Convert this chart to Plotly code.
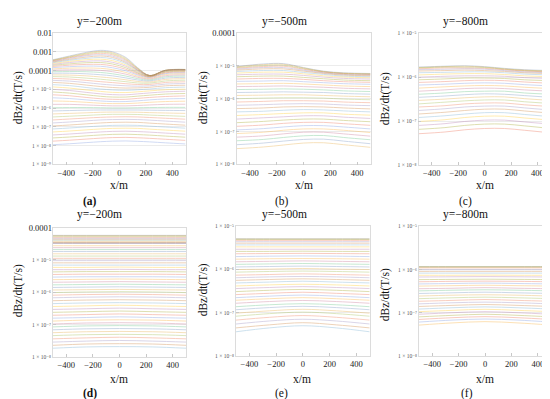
import plotly.graph_objects as go

W, H = 550, 399
palette = ["#5E81B5", "#E19C24", "#8FB032", "#EB6235", "#8778B3", "#C56E1A", "#5D9EC7",
           "#FFBF00", "#A5609D", "#929600", "#E95536", "#6685D9", "#F89F13", "#BC5B80", "#47B66D"]

# ---------------- data (log10 of dBz/dt) ----------------
x_a = [-500, -375, -250, -140, -50, 50, 140, 230, 350, 500]
log_a = [
    [-3.42, -3.22, -3.03, -2.92, -3.00, -3.30, -3.85, -4.26, -3.98, -3.94],
    [-3.44, -3.25, -3.07, -2.97, -3.05, -3.35, -3.88, -4.26, -3.98, -3.94],
    [-3.46, -3.28, -3.11, -3.02, -3.10, -3.40, -3.90, -4.26, -3.98, -3.94],
    [-3.48, -3.31, -3.16, -3.08, -3.16, -3.45, -3.93, -4.26, -3.99, -3.95],
    [-3.51, -3.35, -3.21, -3.15, -3.23, -3.51, -3.96, -4.27, -3.99, -3.95],
    [-3.54, -3.40, -3.28, -3.22, -3.30, -3.57, -3.99, -4.27, -4.00, -3.96],
    [-3.58, -3.45, -3.35, -3.30, -3.38, -3.63, -4.02, -4.28, -4.01, -3.97],
    [-3.62, -3.51, -3.42, -3.39, -3.47, -3.70, -4.06, -4.29, -4.03, -3.99],
    [-3.67, -3.57, -3.50, -3.48, -3.56, -3.77, -4.10, -4.30, -4.05, -4.01],
    [-3.72, -3.64, -3.58, -3.57, -3.65, -3.85, -4.14, -4.32, -4.08, -4.04],
    [-3.78, -3.71, -3.67, -3.67, -3.75, -3.93, -4.19, -4.34, -4.12, -4.08],
    [-3.84, -3.79, -3.76, -3.77, -3.85, -4.01, -4.24, -4.37, -4.16, -4.12],
    [-3.91, -3.87, -3.86, -3.88, -3.95, -4.10, -4.30, -4.41, -4.21, -4.17],
    [-3.98, -3.96, -3.96, -3.99, -4.06, -4.19, -4.36, -4.45, -4.27, -4.23],
    [-4.06, -4.05, -4.06, -4.10, -4.17, -4.29, -4.43, -4.50, -4.33, -4.29],
    [-4.14, -4.14, -4.17, -4.22, -4.28, -4.39, -4.50, -4.55, -4.40, -4.36],
    [-4.23, -4.24, -4.28, -4.34, -4.40, -4.49, -4.58, -4.61, -4.47, -4.43],
    [-4.32, -4.34, -4.40, -4.46, -4.52, -4.59, -4.66, -4.67, -4.55, -4.51],
    [-4.42, -4.45, -4.52, -4.59, -4.64, -4.70, -4.74, -4.74, -4.63, -4.60],
    [-4.52, -4.56, -4.64, -4.72, -4.77, -4.81, -4.83, -4.81, -4.72, -4.69],
    [-4.63, -4.68, -4.77, -4.85, -4.90, -4.93, -4.92, -4.89, -4.81, -4.78],
    [-4.75, -4.80, -4.90, -4.98, -5.03, -5.05, -5.02, -4.98, -4.91, -4.88],
    [-4.87, -4.93, -5.03, -5.11, -5.16, -5.17, -5.13, -5.08, -5.02, -4.99],
    [-5.00, -5.06, -5.16, -5.24, -5.28, -5.29, -5.24, -5.19, -5.13, -5.10],
    [-5.14, -5.20, -5.29, -5.37, -5.41, -5.41, -5.36, -5.31, -5.25, -5.22],
    [-5.29, -5.34, -5.43, -5.50, -5.53, -5.53, -5.48, -5.43, -5.38, -5.35],
    [-5.45, -5.49, -5.56, -5.62, -5.65, -5.65, -5.61, -5.56, -5.51, -5.49],
    [-5.62, -5.64, -5.69, -5.74, -5.76, -5.76, -5.73, -5.69, -5.65, -5.63],
    [-5.80, -5.80, -5.83, -5.86, -5.88, -5.88, -5.86, -5.83, -5.80, -5.79],
    [-5.98, -5.97, -5.97, -5.98, -5.99, -5.99, -5.98, -5.97, -5.96, -5.96],
    [-6.15, -6.13, -6.11, -6.10, -6.10, -6.10, -6.10, -6.11, -6.12, -6.13],
    [-6.31, -6.28, -6.25, -6.22, -6.21, -6.21, -6.22, -6.24, -6.26, -6.28],
    [-6.47, -6.43, -6.39, -6.35, -6.33, -6.33, -6.34, -6.37, -6.40, -6.44],
    [-6.63, -6.58, -6.53, -6.49, -6.47, -6.46, -6.47, -6.50, -6.54, -6.59],
    [-6.79, -6.74, -6.68, -6.63, -6.61, -6.60, -6.61, -6.64, -6.69, -6.75],
    [-6.95, -6.90, -6.84, -6.79, -6.76, -6.75, -6.76, -6.80, -6.85, -6.91],
    [-7.11, -7.06, -7.00, -6.95, -6.92, -6.91, -6.92, -6.96, -7.01, -7.07],
    [-7.27, -7.22, -7.16, -7.11, -7.08, -7.07, -7.08, -7.12, -7.17, -7.23],
    [-7.43, -7.38, -7.32, -7.27, -7.24, -7.23, -7.25, -7.28, -7.33, -7.39],
    [-7.59, -7.54, -7.48, -7.43, -7.40, -7.39, -7.41, -7.44, -7.49, -7.55],
    [-7.76, -7.71, -7.65, -7.60, -7.57, -7.56, -7.58, -7.61, -7.66, -7.72],
    [-7.95, -7.90, -7.84, -7.79, -7.76, -7.75, -7.77, -7.80, -7.85, -7.91],
]

x_b = [-500, -300, -150, 0, 150, 300, 500]
log_b = [
    [-5.02, -4.94, -4.93, -5.05, -5.16, -5.21, -5.23],
    [-5.03, -4.96, -4.95, -5.06, -5.17, -5.22, -5.24],
    [-5.05, -4.99, -4.98, -5.08, -5.18, -5.23, -5.25],
    [-5.07, -5.02, -5.01, -5.10, -5.19, -5.24, -5.26],
    [-5.10, -5.05, -5.05, -5.13, -5.21, -5.26, -5.28],
    [-5.13, -5.09, -5.09, -5.16, -5.23, -5.28, -5.30],
    [-5.17, -5.14, -5.14, -5.20, -5.26, -5.31, -5.33],
    [-5.22, -5.19, -5.19, -5.24, -5.30, -5.34, -5.36],
    [-5.27, -5.25, -5.25, -5.29, -5.34, -5.38, -5.40],
    [-5.33, -5.31, -5.31, -5.35, -5.39, -5.43, -5.45],
    [-5.40, -5.38, -5.38, -5.41, -5.45, -5.48, -5.50],
    [-5.47, -5.46, -5.45, -5.48, -5.51, -5.54, -5.56],
    [-5.55, -5.54, -5.53, -5.55, -5.58, -5.61, -5.63],
    [-5.63, -5.62, -5.61, -5.63, -5.65, -5.68, -5.70],
    [-5.72, -5.71, -5.70, -5.71, -5.73, -5.76, -5.78],
    [-5.81, -5.80, -5.79, -5.80, -5.81, -5.84, -5.86],
    [-5.90, -5.89, -5.88, -5.88, -5.90, -5.92, -5.94],
    [-6.00, -5.98, -5.97, -5.97, -5.98, -6.01, -6.03],
    [-6.10, -6.08, -6.06, -6.06, -6.07, -6.10, -6.12],
    [-6.20, -6.18, -6.16, -6.15, -6.16, -6.19, -6.21],
    [-6.30, -6.28, -6.25, -6.24, -6.25, -6.28, -6.31],
    [-6.40, -6.38, -6.35, -6.33, -6.34, -6.37, -6.40],
    [-6.51, -6.48, -6.45, -6.43, -6.43, -6.47, -6.50],
    [-6.62, -6.58, -6.55, -6.52, -6.52, -6.56, -6.60],
    [-6.73, -6.69, -6.65, -6.62, -6.62, -6.66, -6.70],
    [-6.84, -6.80, -6.75, -6.72, -6.72, -6.76, -6.81],
    [-6.95, -6.91, -6.86, -6.82, -6.82, -6.86, -6.92],
    [-7.06, -7.02, -6.96, -6.92, -6.92, -6.96, -7.03],
    [-7.17, -7.13, -7.07, -7.02, -7.02, -7.07, -7.14],
    [-7.28, -7.24, -7.18, -7.13, -7.12, -7.18, -7.25],
    [-7.40, -7.35, -7.29, -7.24, -7.23, -7.29, -7.37],
    [-7.52, -7.47, -7.41, -7.35, -7.34, -7.40, -7.48],
]

x_c = [-500, -300, -150, 0, 150, 300, 500]
log_c = [
    [-5.77, -5.75, -5.74, -5.76, -5.80, -5.83, -5.85],
    [-5.78, -5.76, -5.75, -5.77, -5.81, -5.84, -5.86],
    [-5.79, -5.77, -5.77, -5.78, -5.82, -5.85, -5.87],
    [-5.81, -5.79, -5.79, -5.80, -5.83, -5.86, -5.88],
    [-5.83, -5.82, -5.81, -5.82, -5.85, -5.88, -5.90],
    [-5.86, -5.85, -5.84, -5.85, -5.87, -5.90, -5.92],
    [-5.90, -5.89, -5.88, -5.88, -5.90, -5.93, -5.95],
    [-5.95, -5.93, -5.92, -5.92, -5.94, -5.97, -5.99],
    [-6.00, -5.98, -5.97, -5.97, -5.98, -6.01, -6.03],
    [-6.06, -6.04, -6.02, -6.02, -6.03, -6.06, -6.08],
    [-6.12, -6.10, -6.08, -6.07, -6.08, -6.11, -6.14],
    [-6.18, -6.16, -6.14, -6.13, -6.14, -6.17, -6.20],
    [-6.25, -6.22, -6.20, -6.19, -6.20, -6.23, -6.26],
    [-6.32, -6.29, -6.26, -6.25, -6.26, -6.29, -6.32],
    [-6.39, -6.36, -6.33, -6.32, -6.32, -6.36, -6.39],
    [-6.46, -6.43, -6.40, -6.38, -6.39, -6.42, -6.46],
    [-6.53, -6.50, -6.47, -6.45, -6.45, -6.49, -6.53],
    [-6.61, -6.57, -6.54, -6.52, -6.52, -6.56, -6.60],
    [-6.68, -6.65, -6.61, -6.59, -6.59, -6.63, -6.67],
    [-6.76, -6.72, -6.68, -6.66, -6.66, -6.70, -6.75],
    [-6.84, -6.80, -6.76, -6.73, -6.73, -6.77, -6.82],
    [-6.92, -6.88, -6.84, -6.81, -6.81, -6.85, -6.90],
    [-7.01, -6.97, -6.92, -6.89, -6.89, -6.93, -6.98],
    [-7.10, -7.06, -7.01, -6.98, -6.98, -7.02, -7.07],
    [-7.19, -7.15, -7.10, -7.07, -7.07, -7.11, -7.17],
    [-7.29, -7.25, -7.20, -7.17, -7.17, -7.21, -7.27],
]

x_d = [-500, -250, 0, 250, 500]
log_d = [
    [-4.24, -4.24, -4.24, -4.24, -4.24],
    [-4.25, -4.25, -4.25, -4.25, -4.25],
    [-4.27, -4.27, -4.27, -4.27, -4.27],
    [-4.30, -4.30, -4.30, -4.30, -4.30],
    [-4.33, -4.33, -4.33, -4.33, -4.33],
    [-4.36, -4.36, -4.36, -4.36, -4.36],
    [-4.39, -4.39, -4.39, -4.39, -4.39],
    [-4.42, -4.42, -4.42, -4.42, -4.42],
    [-4.45, -4.45, -4.45, -4.45, -4.45],
    [-4.47, -4.47, -4.47, -4.47, -4.47],
    [-4.48, -4.48, -4.48, -4.48, -4.48],
    [-4.49, -4.49, -4.49, -4.49, -4.49],
    [-4.56, -4.56, -4.56, -4.56, -4.56],
    [-4.62, -4.62, -4.62, -4.62, -4.62],
    [-4.68, -4.68, -4.68, -4.68, -4.68],
    [-4.74, -4.74, -4.74, -4.74, -4.74],
    [-4.81, -4.81, -4.81, -4.81, -4.81],
    [-4.88, -4.88, -4.88, -4.88, -4.88],
    [-4.95, -4.95, -4.95, -4.95, -4.95],
    [-5.02, -5.02, -5.02, -5.02, -5.02],
    [-5.09, -5.09, -5.09, -5.09, -5.09],
    [-5.16, -5.16, -5.16, -5.16, -5.16],
    [-5.23, -5.23, -5.22, -5.23, -5.23],
    [-5.30, -5.30, -5.29, -5.30, -5.30],
    [-5.37, -5.36, -5.36, -5.36, -5.37],
    [-5.45, -5.44, -5.44, -5.44, -5.45],
    [-5.53, -5.52, -5.52, -5.52, -5.53],
    [-5.61, -5.60, -5.59, -5.60, -5.61],
    [-5.69, -5.68, -5.67, -5.68, -5.69],
    [-5.77, -5.76, -5.75, -5.76, -5.77],
    [-5.85, -5.84, -5.83, -5.84, -5.85],
    [-5.93, -5.92, -5.91, -5.92, -5.93],
    [-6.01, -5.99, -5.98, -5.99, -6.01],
    [-6.09, -6.07, -6.06, -6.07, -6.09],
    [-6.17, -6.15, -6.14, -6.15, -6.17],
    [-6.26, -6.24, -6.23, -6.24, -6.26],
    [-6.35, -6.33, -6.32, -6.33, -6.35],
    [-6.44, -6.42, -6.40, -6.42, -6.44],
    [-6.53, -6.51, -6.49, -6.51, -6.53],
    [-6.62, -6.60, -6.58, -6.60, -6.62],
    [-6.71, -6.69, -6.67, -6.69, -6.71],
    [-6.80, -6.78, -6.76, -6.78, -6.80],
    [-6.89, -6.86, -6.85, -6.86, -6.89],
    [-6.98, -6.95, -6.94, -6.95, -6.98],
    [-7.07, -7.04, -7.03, -7.04, -7.07],
    [-7.16, -7.13, -7.12, -7.13, -7.16],
    [-7.25, -7.22, -7.21, -7.22, -7.25],
    [-7.34, -7.31, -7.30, -7.31, -7.34],
    [-7.44, -7.41, -7.39, -7.41, -7.44],
    [-7.54, -7.51, -7.49, -7.51, -7.54],
    [-7.64, -7.60, -7.59, -7.60, -7.64],
    [-7.73, -7.69, -7.68, -7.69, -7.73],
]

x_e = [-500, -250, 0, 250, 500]
log_e = [
    [-5.29, -5.29, -5.29, -5.29, -5.29],
    [-5.295, -5.295, -5.295, -5.295, -5.295],
    [-5.30, -5.30, -5.30, -5.30, -5.30],
    [-5.325, -5.325, -5.325, -5.325, -5.325],
    [-5.355, -5.355, -5.355, -5.355, -5.355],
    [-5.39, -5.39, -5.39, -5.39, -5.39],
    [-5.43, -5.43, -5.43, -5.43, -5.43],
    [-5.475, -5.475, -5.475, -5.475, -5.475],
    [-5.53, -5.53, -5.53, -5.53, -5.53],
    [-5.58, -5.58, -5.575, -5.58, -5.58],
    [-5.635, -5.63, -5.625, -5.63, -5.635],
    [-5.70, -5.69, -5.685, -5.69, -5.70],
    [-5.76, -5.75, -5.745, -5.75, -5.76],
    [-5.82, -5.81, -5.80, -5.81, -5.82],
    [-5.88, -5.87, -5.86, -5.87, -5.88],
    [-5.94, -5.93, -5.92, -5.93, -5.94],
    [-6.00, -5.99, -5.975, -5.99, -6.00],
    [-6.06, -6.045, -6.035, -6.045, -6.06],
    [-6.13, -6.115, -6.10, -6.115, -6.13],
    [-6.19, -6.17, -6.16, -6.17, -6.19],
    [-6.25, -6.23, -6.215, -6.23, -6.25],
    [-6.31, -6.29, -6.27, -6.29, -6.31],
    [-6.38, -6.355, -6.34, -6.355, -6.38],
    [-6.44, -6.415, -6.395, -6.415, -6.44],
    [-6.51, -6.48, -6.46, -6.48, -6.51],
    [-6.58, -6.55, -6.525, -6.55, -6.58],
    [-6.65, -6.615, -6.59, -6.615, -6.65],
    [-6.71, -6.675, -6.65, -6.675, -6.71],
    [-6.78, -6.74, -6.715, -6.74, -6.78],
    [-6.86, -6.815, -6.79, -6.815, -6.86],
    [-6.93, -6.88, -6.85, -6.88, -6.93],
    [-7.01, -6.955, -6.92, -6.955, -7.01],
    [-7.08, -7.02, -6.985, -7.02, -7.08],
    [-7.17, -7.105, -7.065, -7.105, -7.17],
    [-7.26, -7.19, -7.15, -7.19, -7.26],
    [-7.35, -7.28, -7.23, -7.28, -7.35],
    [-7.44, -7.35, -7.30, -7.35, -7.44],
]

x_f = [-500, -250, 0, 250, 500]
log_f = [
    [-5.93, -5.93, -5.93, -5.93, -5.93],
    [-5.935, -5.935, -5.935, -5.935, -5.935],
    [-5.94, -5.94, -5.94, -5.94, -5.94],
    [-5.96, -5.96, -5.96, -5.96, -5.96],
    [-6.00, -6.00, -6.00, -6.00, -6.00],
    [-6.04, -6.04, -6.04, -6.04, -6.04],
    [-6.08, -6.08, -6.08, -6.08, -6.08],
    [-6.13, -6.13, -6.125, -6.13, -6.13],
    [-6.17, -6.165, -6.16, -6.165, -6.17],
    [-6.23, -6.225, -6.22, -6.225, -6.23],
    [-6.28, -6.27, -6.265, -6.27, -6.28],
    [-6.33, -6.32, -6.31, -6.32, -6.33],
    [-6.38, -6.37, -6.36, -6.37, -6.38],
    [-6.44, -6.43, -6.415, -6.43, -6.44],
    [-6.49, -6.475, -6.465, -6.475, -6.49],
    [-6.55, -6.535, -6.52, -6.535, -6.55],
    [-6.61, -6.59, -6.58, -6.59, -6.61],
    [-6.67, -6.65, -6.635, -6.65, -6.67],
    [-6.73, -6.71, -6.69, -6.71, -6.73],
    [-6.79, -6.765, -6.75, -6.765, -6.79],
    [-6.85, -6.825, -6.805, -6.825, -6.85],
    [-6.91, -6.88, -6.86, -6.88, -6.91],
    [-6.97, -6.94, -6.915, -6.94, -6.97],
    [-7.03, -6.995, -6.97, -6.995, -7.03],
    [-7.09, -7.055, -7.03, -7.055, -7.09],
    [-7.15, -7.11, -7.085, -7.11, -7.15],
    [-7.21, -7.165, -7.14, -7.165, -7.21],
    [-7.28, -7.23, -7.20, -7.23, -7.28],
]

x_ticks = [-400, -200, 0, 200, 400]
ytick_exp_a = [-9, -8, -7, -6, -5, -4, -3, -2]
ytick_exp_b = [-8, -7, -6, -5, -4]
ytick_exp_c = [-8, -7, -6, -5]
ytick_exp_d = [-8, -7, -6, -5, -4]
ytick_exp_e = [-8, -7, -6, -5]
ytick_exp_f = [-8, -7, -6, -5]

titles = ["y=\u2212200m", "y=\u2212500m", "y=\u2212800m", "y=\u2212200m", "y=\u2212500m", "y=\u2212800m"]
labels = ["(a)", "(b)", "(c)", "(d)", "(e)", "(f)"]

# ---------------- layout geometry (pixels) ----------------
panels = [
    dict(x=x_a, data=log_a, exps=ytick_exp_a, yr=[-9, -2], box=(45, 177.5, 20.5, 154.5),
         title=(91, 8.5), xt=(111, 175.5), lab=(82, 192.5), yt=(10, 87), bold=True),
    dict(x=x_b, data=log_b, exps=ytick_exp_b, yr=[-8, -4], box=(228.5, 362.5, 20.5, 154.5),
         title=(276, 8.5), xt=(295.5, 175.5), lab=(273.5, 192.5), yt=(195, 87), bold=False),
    dict(x=x_c, data=log_c, exps=ytick_exp_c, yr=[-8, -5], box=(410.5, 542.7, 20.7, 155),
         title=(457, 8.5), xt=(477, 175.5), lab=(457.5, 192.5), yt=(377, 88), bold=False),
    dict(x=x_d, data=log_d, exps=ytick_exp_d, yr=[-8, -4], box=(45, 178, 219, 351),
         title=(91, 205.5), xt=(111, 373.5), lab=(82, 388), yt=(10, 284), bold=True),
    dict(x=x_e, data=log_e, exps=ytick_exp_e, yr=[-8, -5], box=(228, 361.7, 217.7, 350),
         title=(276, 205.5), xt=(294, 373.5), lab=(273.5, 388), yt=(195, 283), bold=False),
    dict(x=x_f, data=log_f, exps=ytick_exp_f, yr=[-8, -5], box=(411, 543, 217.7, 350.3),
         title=(457, 205.5), xt=(477, 373.5), lab=(458.5, 388), yt=(377, 288), bold=False),
]

SERIF = "'Liberation Serif', 'Times New Roman', 'DejaVu Serif', serif"
SUP = {"5": "\u2075", "6": "\u2076", "7": "\u2077", "8": "\u2078", "9": "\u2079"}


def sci_label(e):
    return "1 \u00d7 10\u207b" + SUP[str(-e)]


def dec_label(e):
    return "0." + "0" * (-e - 1) + "1"


fig = go.Figure()
annotations = []
layout = {}
n_panels = len(panels)
for i, p in enumerate(panels):
    n = "" if i == 0 else str(i + 1)
    xa, ya = "x" + n, "y" + n
    x0, x1, yt0, yb0 = p["box"]
    for k, row in enumerate(p["data"]):
        fig.add_trace(go.Scatter(
            x=p["x"], y=[10 ** v for v in row], mode="lines",
            line=dict(color=palette[k % len(palette)], width=0.85, shape="spline", smoothing=1.0),
            opacity=0.36, hoverinfo="skip", showlegend=False, xaxis=xa, yaxis=ya))
    sci = [e for e in p["exps"] if e < -4]
    dec = [e for e in p["exps"] if e >= -4]
    layout["xaxis" + n] = dict(
        domain=[x0 / W, x1 / W], range=[-500, 500], anchor=ya,
        tickmode="array", tickvals=x_ticks,
        ticktext=[("\u2212" + str(-t)) if t < 0 else str(t) for t in x_ticks],
        ticks="inside", ticklen=3, tickcolor="#c8c8c8", tickwidth=0.8,
        showline=True, linecolor="#dcdcdc", linewidth=0.8, mirror=True,
        showgrid=False, zeroline=False,
        tickfont=dict(family=SERIF, size=8.5, color="#222"))
    layout["yaxis" + n] = dict(
        domain=[1 - yb0 / H, 1 - yt0 / H], type="log", range=p["yr"], anchor=xa,
        tickmode="array", tickvals=[10 ** e for e in sci],
        ticktext=[sci_label(e) for e in sci],
        ticks="inside", ticklen=3, tickcolor="#c8c8c8", tickwidth=0.8,
        showline=True, linecolor="#dcdcdc", linewidth=0.8, mirror=True,
        showgrid=True, gridcolor="#ececec", gridwidth=0.8, zeroline=False,
        tickfont=dict(family=SERIF, size=5.5, color="#555"))
    if dec:
        m = str(n_panels + i + 1)
        # empty trace so the overlay axis (decimal tick labels) gets drawn
        fig.add_trace(go.Scatter(x=[], y=[], mode="lines", showlegend=False, hoverinfo="skip",
                                 xaxis=xa, yaxis="y" + m))
        layout["yaxis" + m] = dict(
            overlaying=ya, anchor=xa, side="left", type="log", range=p["yr"],
            tickmode="array", tickvals=[10 ** e for e in dec],
            ticktext=[dec_label(e) for e in dec],
            ticks="inside", ticklen=3, tickcolor="#c8c8c8", tickwidth=0.8,
            showline=False, showgrid=True, gridcolor="#ececec", gridwidth=0.8, zeroline=False,
            tickfont=dict(family=SERIF, size=8.5, color="#222"))
    annotations.append(dict(x=p["title"][0] / W, y=1 - p["title"][1] / H, xref="paper", yref="paper",
                            text=titles[i], showarrow=False, xanchor="center", yanchor="middle",
                            font=dict(family=SERIF, size=11.5, color="#111")))
    annotations.append(dict(x=p["xt"][0] / W, y=1 - p["xt"][1] / H, xref="paper", yref="paper",
                            text="x/m", showarrow=False, xanchor="center", yanchor="middle",
                            font=dict(family=SERIF, size=11.5, color="#111")))
    lab = "<b>" + labels[i] + "</b>" if p["bold"] else labels[i]
    annotations.append(dict(x=p["lab"][0] / W, y=1 - p["lab"][1] / H, xref="paper", yref="paper",
                            text=lab, showarrow=False, xanchor="center", yanchor="middle",
                            font=dict(family=SERIF, size=11.5, color="#111")))
    annotations.append(dict(x=p["yt"][0] / W, y=1 - p["yt"][1] / H, xref="paper", yref="paper",
                            text="dBz/dt(T/s)", showarrow=False, textangle=-90,
                            xanchor="center", yanchor="middle",
                            font=dict(family=SERIF, size=11.5, color="#111")))

fig.update_layout(width=W, height=H, margin=dict(l=0, r=0, t=0, b=0),
                  paper_bgcolor="white", plot_bgcolor="white",
                  annotations=annotations, showlegend=False, **layout)
fig.write_html("out.html")
